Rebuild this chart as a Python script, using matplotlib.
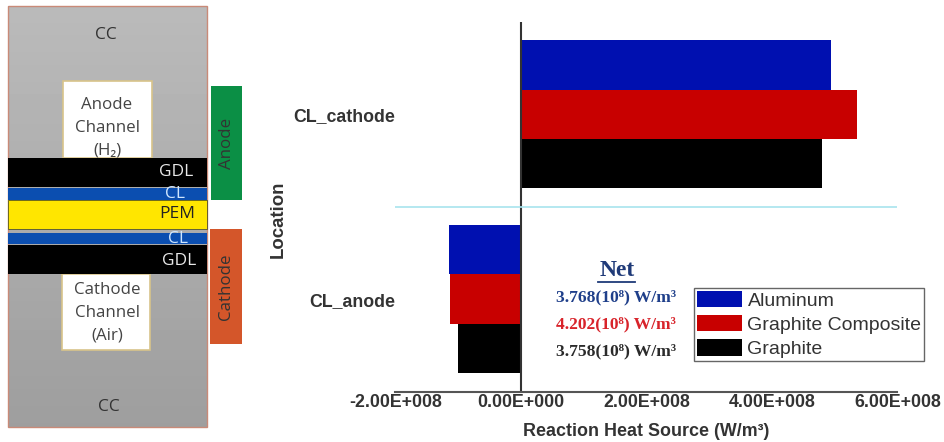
import matplotlib
matplotlib.use("Agg")
import matplotlib.pyplot as plt
from matplotlib.patches import Rectangle
import numpy as np

W, H = 945, 442

locations = ["CL_anode", "CL_cathode"]
aluminum = [-1.15e8, 4.94e8]
composite = [-1.13e8, 5.35e8]
graphite = [-1.01e8, 4.80e8]
series_names = ["Aluminum", "Graphite Composite", "Graphite"]
series_colors = ["#0010b0", "#c80000", "#000000"]
x_ticks = [-2e8, 0, 2e8, 4e8, 6e8]
x_labels = ["-2.00E+008", "0.00E+000", "2.00E+008", "4.00E+008", "6.00E+008"]
net_values = ["3.768(10⁸) W/m³", "4.202(10⁸) W/m³", "3.758(10⁸) W/m³"]
net_colors = ["#1f3f8a", "#d8232a", "#2b2b2b"]

# diagram layers: left, right, top, bottom (pixels), colour
layers = [
    (8, 207, 158, 187, "#000000"),
    (8, 207, 188, 200, "#0b4eb0"),
    (8, 207, 200, 229, "#ffe600"),
    (8, 207, 233, 244, "#0b4eb0"),
    (8, 207, 245, 274, "#000000"),
]
layer_labels = [("GDL", 176, 172, "#e8e8e8"), ("CL", 175, 194, "#cfe6ff"), ("PEM", 177, 214, "#222222"),
                ("CL", 178, 239, "#cfe6ff"), ("GDL", 179, 261, "#e8e8e8"),
                ("CC", 106, 35, "#333333"), ("CC", 109, 407, "#333333")]

plt.rcParams['font.family'] = ['Liberation Sans', 'DejaVu Sans']
fig = plt.figure(figsize=(W / 100, H / 100), dpi=100)

# pixel canvas for the left diagram
bg = fig.add_axes([0, 0, 1, 1])
bg.set_xlim(0, W)
bg.set_ylim(H, 0)
bg.axis("off")

grad = np.linspace(0.73, 0.62, 100).reshape(-1, 1)
bg.imshow(grad, cmap="gray", vmin=0, vmax=1, extent=[8, 207, 427, 6], aspect="auto", zorder=1)
bg.set_xlim(0, W)
bg.set_ylim(H, 0)
bg.add_patch(Rectangle((8, 6), 199, 421, fill=False, ec="#c98a78", lw=1, zorder=2))

bg.add_patch(Rectangle((63, 81), 89, 77, fc="white", ec="#d8c48a", lw=1.2, zorder=2))
bg.add_patch(Rectangle((62, 274), 88, 76, fc="white", ec="#d8c48a", lw=1.2, zorder=2))
for x0, x1, y0, y1, c in layers:
    bg.add_patch(Rectangle((x0, y0), x1 - x0, y1 - y0, fc=c, ec="none", zorder=3))
bg.add_patch(Rectangle((8, 200), 199, 29, fill=False, ec="#555522", lw=0.6, zorder=3))
bg.add_patch(Rectangle((211, 86), 31, 114, fc="#0b8f45", ec="none", zorder=3))
bg.add_patch(Rectangle((210, 229), 32, 115, fc="#d4562a", ec="none", zorder=3))

dfont = ['Open Sans', 'DejaVu Sans']
for s, x, y, c in layer_labels:
    bg.text(x, y, s, color=c, ha="center", va="center", fontsize=12.5, family=dfont, zorder=4)
bg.text(107, 128, "Anode\nChannel\n(H₂)", ha="center", va="center", fontsize=12.2, color="#444444",
        family=dfont, linespacing=1.55, zorder=2.5)
bg.text(107, 313, "Cathode\nChannel\n(Air)", ha="center", va="center", fontsize=12.2, color="#444444",
        family=dfont, linespacing=1.55, zorder=4)
bg.text(227, 143, "Anode", rotation=90, ha="center", va="center", fontsize=12.2, color="#333333", family=dfont, zorder=4)
bg.text(226, 287, "Cathode", rotation=90, ha="center", va="center", fontsize=12.2, color="#333333", family=dfont, zorder=4)

# bar chart, axes spans the pixel range of the reference
ax = fig.add_axes([395.5 / W, 1 - 391.5 / H, (898 - 396) / W, (391.5 - 22) / H])
ax.patch.set_alpha(0)
y = np.arange(len(locations))
h = 0.267
ax.barh(y + h, aluminum, h, color=series_colors[0], label=series_names[0])
ax.barh(y, composite, h, color=series_colors[1], label=series_names[1])
ax.barh(y - h, graphite, h, color=series_colors[2], label=series_names[2])

ax.set_xlim(-2e8, 6e8)
ax.set_ylim(-0.5, 1.5)
ax.set_xticks(x_ticks)
ax.set_xticklabels(x_labels, fontweight="bold", fontsize=12.8, color="#333333")
ax.set_yticks(y)
ax.set_yticklabels(locations, fontweight="bold", fontsize=12.8, color="#333333")
ax.tick_params(axis="x", length=0, pad=1.5)
ax.tick_params(axis="y", length=0, pad=0)
for s in ["top", "right", "left"]:
    ax.spines[s].set_visible(False)
ax.spines["bottom"].set_color("#555555")
ax.spines["bottom"].set_linewidth(1.5)
ax.axvline(0, color="#333333", lw=1.5)
ax.axhline(0.5, color="#a8e4ee", lw=1.2)

bg.text(278, 219, "Location", rotation=90, ha="center", va="center", fontweight="bold", fontsize=13.4, color="#333333")
bg.text(646, 431, "Reaction Heat Source (W/m³)", ha="center", va="center", fontweight="bold", fontsize=12.9, color="#333333")

# net heat annotation
serif = ['Liberation Serif', 'DejaVu Serif']
bg.text(617, 271, "Net", ha="center", va="center", fontweight="bold", fontsize=17, color="#1f3a78", family=serif, zorder=5)
bg.plot([598, 635], [282, 282], color="#1f3a78", lw=1.3, zorder=5)
for s, c, yy in zip(net_values, net_colors, [297, 324, 351]):
    bg.text(616, yy, s, ha="center", va="center", fontweight="bold", fontsize=12.6, color=c, family=serif, zorder=5)

handles, labels = ax.get_legend_handles_labels()
leg = fig.legend(handles, labels, loc="upper left", bbox_to_anchor=(694 / W, 1 - 288 / H), fontsize=14,
                 frameon=True, fancybox=False, edgecolor="#666666", framealpha=1, borderaxespad=0,
                 borderpad=0.15, handlelength=2.3, handleheight=0.9, handletextpad=0.3, labelspacing=0.28)
leg.get_frame().set_linewidth(1)
for t in leg.get_texts():
    t.set_color("#333333")

fig.savefig("out.png", dpi=100)
